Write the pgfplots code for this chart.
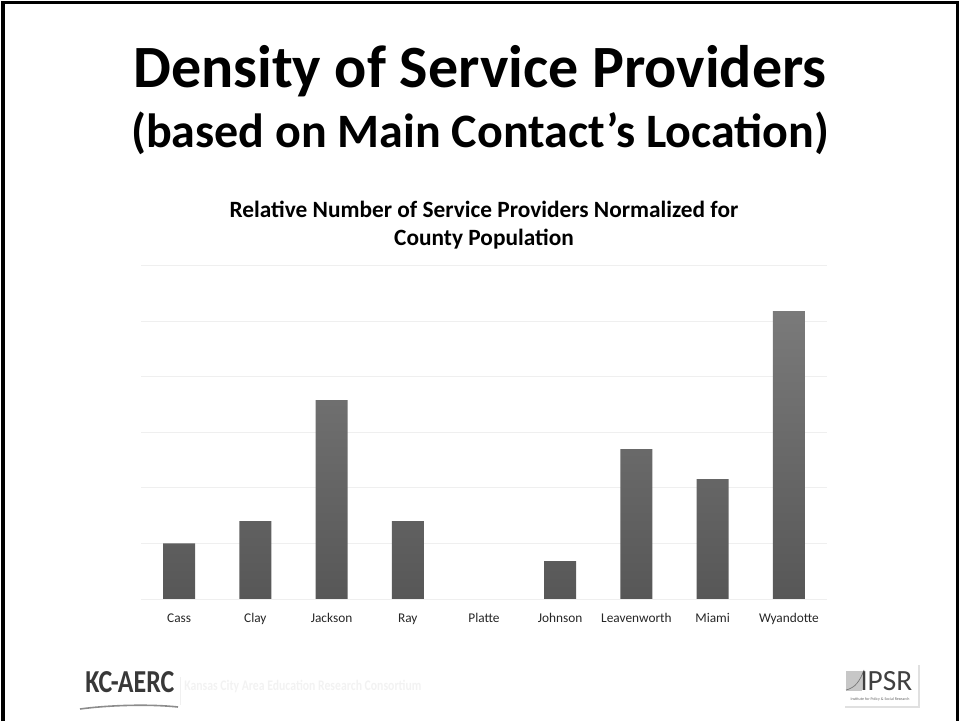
\documentclass[border=0pt]{standalone}
\usepackage{pgfplots}
\pgfplotsset{compat=1.18}
\usepackage{fontspec}
\setmainfont{Carlito}
\usepackage{graphicx}

\definecolor{bartop}{HTML}{7A7A7A}
\definecolor{barbot}{HTML}{575757}
\definecolor{gridc}{HTML}{EFEFEF}

\begin{document}
\begin{tikzpicture}[x=0.75pt,y=0.75pt]
  % slide area 960 x 721 px
  \path[use as bounding box] (0,0) rectangle (960,721);
  \draw[line width=2.3pt,black] (3,0) -- (3,718.5) -- (957.5,718.5) -- (957.5,0);

  % slide titles
  \node[anchor=base] at (480,633) {\fontsize{45}{48}\selectfont\bfseries Density of Service Providers};
  \node[anchor=base] at (480,573) {\fontsize{36}{40}\selectfont\bfseries (based on Main Contact’s Location)};

  \begin{axis}[
      at={(105.75pt,91.5pt)}, anchor=south west,
      scale only axis, width=514.5pt, height=250pt,
      xmin=-0.5, xmax=8.5, ymin=0, ymax=6,
      xtick={0,...,8},
      xticklabels={Cass,Clay,Jackson,Ray,Platte,Johnson,Leavenworth,Miami,Wyandotte},
      x tick label style={font=\fontsize{10}{12}\selectfont, text=black!85, yshift=-7.5pt},
      ytick={0,...,6}, yticklabels={},
      ymajorgrids, grid style={gridc, line width=0.6pt},
      axis line style={draw=none},
      major tick style={draw=none},
      title={Relative Number of Service Providers Normalized for\\County Population},
      title style={font=\fontsize{17.5}{21}\selectfont\bfseries, align=center,
                   at={(0.5,1)}, anchor=base, yshift=9.4pt},
    ]
    % zero-height bar (Platte) is not drawn
    \addplot[ybar, bar width=24pt, bar shift=0pt, top color=bartop, bottom color=barbot,
             draw=none, y filter/.expression={y==0 ? nan : y}]
      coordinates {(0,1.00) (1,1.40) (2,3.58) (3,1.40) (4,0) (5,0.68) (6,2.70) (7,2.16) (8,5.18)};
  \end{axis}

  % footer logos
  \node[anchor=base west, text=black!78, inner sep=0] at (85,28)
    {\scalebox{0.81}[1]{\fontsize{24}{26}\selectfont\bfseries KC-AERC}};
  \draw[black!45, line width=1.2pt] (80,12) .. controls (110,16) and (150,17) .. (178,14);
  \draw[black!6, line width=0.5pt] (180,16) -- (180,44);
  \node[anchor=base west, text=black!5, inner sep=0] at (184,31)
    {\scalebox{0.8}[1]{\fontsize{11}{12}\selectfont\bfseries Kansas City Area Education Research Consortium}};

  \fill[black!12] (845,13) rectangle (920,56);
  \fill[white] (843,15) rectangle (918,58);
  \fill[black!22] (846,30) rectangle (862,50);
  \draw[black!55, line width=0.5pt] (846,31) .. controls (855,33) and (860,40) .. (864,51);
  \node[anchor=base west, text=black!75, inner sep=0] at (860,31)
    {\fontsize{22}{24}\selectfont IPSR};
  \node[anchor=base, text=black!60, inner sep=0] at (880,21)
    {\fontsize{3}{4}\selectfont Institute for Policy \& Social Research};
\end{tikzpicture}
\end{document}
